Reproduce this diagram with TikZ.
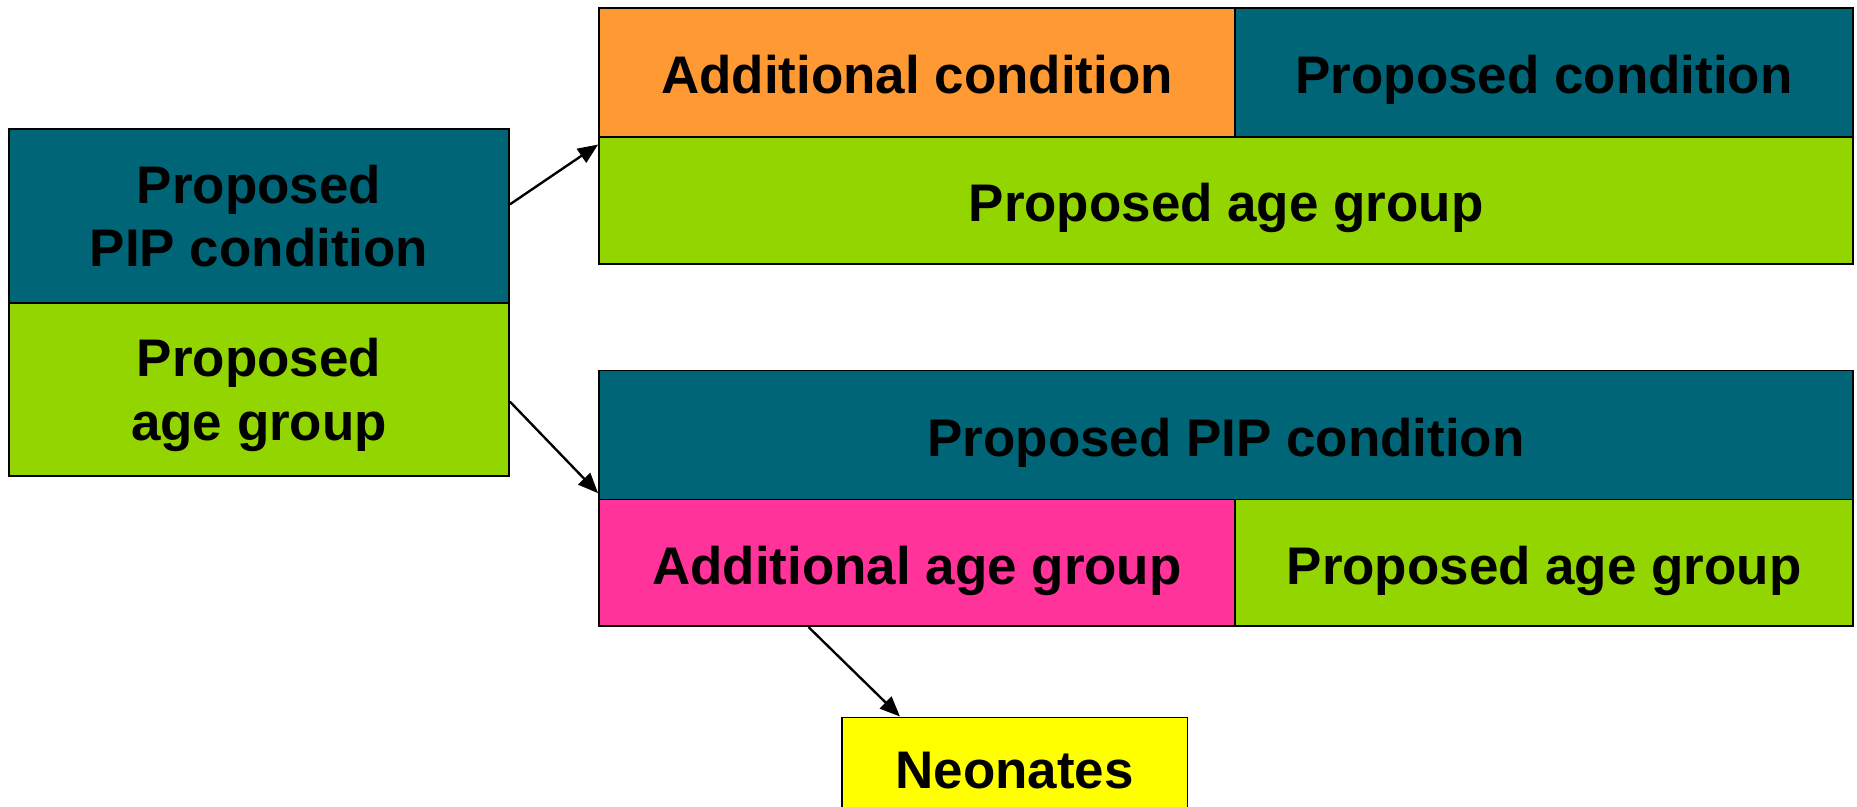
\documentclass[tikz,border=0pt]{standalone}
\usepackage{fontspec}
\setmainfont{Liberation Sans}
\usetikzlibrary{arrows.meta,calc}
\definecolor{cteal}{RGB}{0,102,119}
\definecolor{cgreen}{RGB}{147,213,0}
\definecolor{corange}{RGB}{255,153,51}
\definecolor{cpink}{RGB}{255,51,153}
\definecolor{cyellow}{RGB}{255,255,0}
\tikzset{
  cell/.style={draw=black, line width=1.5pt, inner sep=0pt, anchor=north west,
    align=center, font=\fontsize{44.7}{53.6}\selectfont\bfseries},
  oneline/.style={text height=36pt, text depth=0pt},
  conn/.style={line width=2pt, -{Triangle[length=17pt,width=14pt]}}
}
\begin{document}
\begin{tikzpicture}[x=1pt,y=-1pt]
\useasboundingbox (0,0) rectangle (1568,681.4);
% left box
\node[cell, fill=cteal, minimum width=422pt, minimum height=147pt] (L1) at (7,108) {Proposed\\PIP condition};
\node[cell, fill=cgreen, minimum width=422pt, minimum height=146pt, text depth=0pt] (L2) at (7,255) {Proposed\\age group};
% top group
\node[cell, oneline, fill=corange, minimum width=537pt, minimum height=109pt] (T1) at (505,6) {Additional condition};
\node[cell, oneline, fill=cteal, minimum width=522pt, minimum height=109pt] (T2) at (1042,6) {Proposed condition};
\node[cell, oneline, fill=cgreen, minimum width=1059pt, minimum height=107pt] (T3) at (505,115) {Proposed age group};
% middle group
\node[cell, oneline, fill=cteal, minimum width=1059pt, minimum height=109pt] (M1) at (505,312) {Proposed PIP condition};
\node[cell, oneline, fill=cpink, minimum width=537pt, minimum height=107pt] (M2) at (505,421) {Additional age group};
\node[cell, oneline, fill=cgreen, minimum width=522pt, minimum height=107pt] (M3) at (1042,421) {Proposed age group};
% neonates
\node[cell, oneline, fill=cyellow, minimum width=292pt, minimum height=84pt] (N) at (710,605) {Neonates};
% connectors
\coordinate (a1s) at ($(L1.north east)!0.435!(L1.south east)$);
\coordinate (a1e) at ($(T3.north west)!0.065!(T3.south west)$);
\coordinate (a2s) at ($(L2.north east)!0.57!(L2.south east)$);
\coordinate (a2e) at ($(M1.north west)!0.945!(M1.south west)$);
\coordinate (a3s) at ($(M2.south west)!0.33!(M2.south east)$);
\coordinate (a3e) at ($(N.north west)!0.17!(N.north east)$);
\draw[conn] (a1s) -- (a1e);
\draw[conn] (a2s) -- (a2e);
\draw[conn] (a3s) -- (a3e);
\end{tikzpicture}
\end{document}
